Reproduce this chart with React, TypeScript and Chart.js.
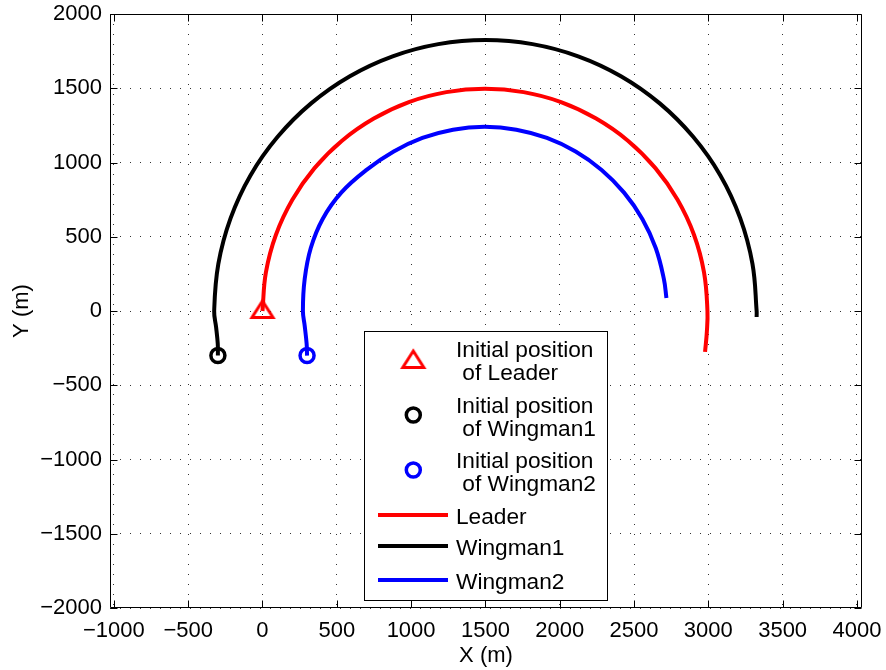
import React, { useEffect, useRef } from "react";
import { Chart, registerables } from "chart.js";

Chart.register(...registerables);

// ---- Data ----
const xTicks = [-1000, -500, 0, 500, 1000, 1500, 2000, 2500, 3000, 3500, 4000];
const yTicks = [-2000, -1500, -1000, -500, 0, 500, 1000, 1500, 2000];

const leaderX = [0, 23, 90, 201, 350, 535, 749, 985, 1237, 1497, 1757, 2009, 2245, 2459, 2644, 2793, 2904, 2971, 2994, 2990, 2978];
const leaderY = [0, 260, 512, 749, 962, 1147, 1296, 1407, 1474, 1497, 1474, 1407, 1296, 1147, 962, 749, 512, 260, 0, -140, -275];

const wing1X = [-300, -301, -312, -325, -297, -215, -81, 102, 327, 588, 876, 1183, 1500, 1817, 2124, 2412, 2673, 2898, 3081, 3215, 3297, 3325, 3325];
const wing1Y = [-300, -220, -110, 0, 317, 624, 913, 1173, 1398, 1581, 1715, 1797, 1825, 1797, 1715, 1581, 1398, 1173, 913, 624, 317, 0, -40];

const wing2X = [300, 297, 284, 272, 284, 325, 405, 530, 700, 883, 1076, 1282, 1495, 1708, 1914, 2107, 2282, 2433, 2556, 2646, 2701, 2718];
const wing2Y = [-300, -220, -100, 0, 215, 424, 620, 797, 950, 1074, 1165, 1221, 1240, 1221, 1165, 1074, 950, 797, 620, 424, 215, 88];

const leaderStart = [0, 0];
const wing1Start = [-300, -300];
const wing2Start = [300, -300];

const legendMarkerLabels = [
  ["Initial position", " of Leader"],
  ["Initial position", " of Wingman1"],
  ["Initial position", " of Wingman2"],
];
const legendLineLabels = ["Leader", "Wingman1", "Wingman2"];

const RED = "#ff0000";
const BLUE = "#0000ff";
const BLACK = "#000000";
const FONT = "'Liberation Sans', Arial, Helvetica, sans-serif";

function makeTriangle(): HTMLCanvasElement {
  const c = document.createElement("canvas");
  c.width = 30;
  c.height = 30;
  const g = c.getContext("2d")!;
  g.strokeStyle = RED;
  g.lineWidth = 3;
  g.lineJoin = "miter";
  g.beginPath();
  g.moveTo(15, 5);
  g.lineTo(25.5, 21.5);
  g.lineTo(4.5, 21.5);
  g.closePath();
  g.stroke();
  return c;
}

const fmt = (v: number) => (v < 0 ? "\u2212" + Math.abs(v) : String(v));
const pts = (xs: number[], ys: number[]) => xs.map((x, i) => ({ x, y: ys[i] }));

export default function App() {
  const ref = useRef<HTMLCanvasElement>(null);

  useEffect(() => {
    const canvas = ref.current!;
    const tri = makeTriangle();

    const framePlugin = {
      id: "frameTicks",
      afterDraw(chart: any) {
        const ctx = chart.ctx as CanvasRenderingContext2D;
        const { left, right, top, bottom } = chart.chartArea;
        const xs = chart.scales.x;
        const ys = chart.scales.y;
        ctx.save();
        ctx.strokeStyle = "#000";
        ctx.lineWidth = 1;
        const L = Math.round(left) + 0.5;
        const R = Math.round(right) - 0.5;
        const T = Math.round(top) + 0.5;
        const B = Math.round(bottom) - 0.5;
        ctx.beginPath();
        ctx.rect(L, T, R - L, B - T);
        ctx.stroke();
        const tl = 7;
        ctx.beginPath();
        xTicks.forEach((v) => {
          const p = Math.round(xs.getPixelForValue(v)) + 0.5;
          ctx.moveTo(p, B);
          ctx.lineTo(p, B - tl);
          ctx.moveTo(p, T);
          ctx.lineTo(p, T + tl);
        });
        yTicks.forEach((v) => {
          const p = Math.round(ys.getPixelForValue(v)) + 0.5;
          ctx.moveTo(L, p);
          ctx.lineTo(L + tl, p);
          ctx.moveTo(R, p);
          ctx.lineTo(R - tl, p);
        });
        ctx.stroke();
        ctx.restore();
      },
    };

    const legendPlugin = {
      id: "matlabLegend",
      afterDatasetsDraw(chart: any) {
        const ctx = chart.ctx as CanvasRenderingContext2D;
        ctx.save();
        const bx = 364.5, by = 331.5, bw = 243, bh = 269;
        ctx.fillStyle = "#fff";
        ctx.fillRect(bx, by, bw, bh);
        ctx.strokeStyle = "#000";
        ctx.lineWidth = 1;
        ctx.strokeRect(bx, by, bw, bh);

        ctx.font = `22.7px ${FONT}`;
        ctx.fillStyle = "#000";
        ctx.textBaseline = "middle";
        ctx.textAlign = "left";
        const textX = 456;
        const mx = 413.3;

        ctx.drawImage(tri, mx - 15, 361 - 15);
        const circles = [
          { y: 415, c: BLACK },
          { y: 470, c: BLUE },
        ];
        circles.forEach((e) => {
          ctx.beginPath();
          ctx.arc(mx, e.y, 7, 0, Math.PI * 2);
          ctx.strokeStyle = e.c;
          ctx.lineWidth = 3.5;
          ctx.stroke();
        });
        const rows = [
          [351, 373.5],
          [407, 429.5],
          [462, 484.5],
        ];
        legendMarkerLabels.forEach((lines, i) => {
          ctx.fillStyle = "#000";
          ctx.fillText(lines[0], textX, rows[i][0]);
          ctx.fillText(lines[1], textX, rows[i][1]);
        });
        const lineRows = [
          { y: 515, c: RED },
          { y: 546, c: BLACK },
          { y: 580, c: BLUE },
        ];
        legendLineLabels.forEach((t, i) => {
          ctx.beginPath();
          ctx.moveTo(378, lineRows[i].y);
          ctx.lineTo(448, lineRows[i].y);
          ctx.strokeStyle = lineRows[i].c;
          ctx.lineWidth = 4;
          ctx.stroke();
          ctx.fillStyle = "#000";
          ctx.fillText(t, textX, lineRows[i].y + 3);
        });
        ctx.restore();
      },
    };

    const gridOpts = { color: "rgba(0,0,0,0.8)", lineWidth: 1, drawTicks: false };

    const lineDs = (label: string, xs: number[], ys: number[], color: string) => ({
      label,
      data: pts(xs, ys),
      showLine: true,
      borderColor: color,
      borderWidth: 4,
      pointRadius: 0,
      tension: 0.4,
      order: 1,
    });

    const chart = new Chart(canvas, {
      type: "scatter",
      data: {
        datasets: [
          {
            label: "Initial position of Leader",
            data: [{ x: leaderStart[0], y: leaderStart[1] }],
            pointStyle: tri as any,
            pointRadius: 12,
            order: 0,
          },
          {
            label: "Initial position of Wingman1",
            data: [{ x: wing1Start[0], y: wing1Start[1] }],
            pointStyle: "circle",
            pointRadius: 7,
            pointBorderWidth: 3.5,
            pointBorderColor: BLACK,
            pointBackgroundColor: "rgba(0,0,0,0)",
            order: 0,
          },
          {
            label: "Initial position of Wingman2",
            data: [{ x: wing2Start[0], y: wing2Start[1] }],
            pointStyle: "circle",
            pointRadius: 7,
            pointBorderWidth: 3.5,
            pointBorderColor: BLUE,
            pointBackgroundColor: "rgba(0,0,0,0)",
            order: 0,
          },
          lineDs("Leader", leaderX, leaderY, RED),
          lineDs("Wingman1", wing1X, wing1Y, BLACK),
          lineDs("Wingman2", wing2X, wing2Y, BLUE),
        ],
      },
      options: {
        responsive: false,
        animation: false,
        events: [],
        layout: { padding: { left: 0, top: 14, right: 24, bottom: 0 } },
        plugins: {
          legend: { display: false },
          tooltip: { enabled: false },
        },
        scales: {
          x: {
            type: "linear",
            min: -1026,
            max: 4034,
            afterBuildTicks: (s: any) => {
              s.ticks = xTicks.map((v) => ({ value: v }));
            },
            afterFit: (s: any) => {
              s.height = 62;
              s.paddingLeft = 0;
              s.paddingRight = 0;
            },
            ticks: {
              callback: (v: any) => fmt(Number(v)),
              color: "#000",
              font: { family: FONT, size: 22 },
              padding: 10,
              maxRotation: 0,
              autoSkip: false,
            },
            grid: gridOpts,
            border: { display: false, dash: [1, 9] },
            title: {
              display: true,
              text: "X (m)",
              color: "#000",
              font: { family: FONT, size: 22 },
              padding: { top: 0, bottom: 1 },
            },
          },
          y: {
            type: "linear",
            min: -2000,
            max: 2000,
            afterBuildTicks: (s: any) => {
              s.ticks = yTicks.map((v) => ({ value: v }));
            },
            afterFit: (s: any) => {
              s.width = 110;
              s.paddingTop = 0;
              s.paddingBottom = 0;
            },
            ticks: {
              callback: (v: any) => fmt(Number(v)),
              color: "#000",
              font: { family: FONT, size: 22 },
              padding: 8,
              autoSkip: false,
            },
            grid: gridOpts,
            border: { display: false, dash: [1, 9] },
            title: {
              display: true,
              text: "Y (m)",
              color: "#000",
              font: { family: FONT, size: 22 },
              padding: { top: 9, bottom: 0 },
            },
          },
        },
      } as any,
      plugins: [legendPlugin, framePlugin],
    });

    return () => chart.destroy();
  }, []);

  return (
    <div style={{ position: "fixed", left: 0, top: 0, width: 886, height: 670, background: "#fff" }}>
      <canvas ref={ref} width={886} height={670} style={{ display: "block" }} />
    </div>
  );
}
